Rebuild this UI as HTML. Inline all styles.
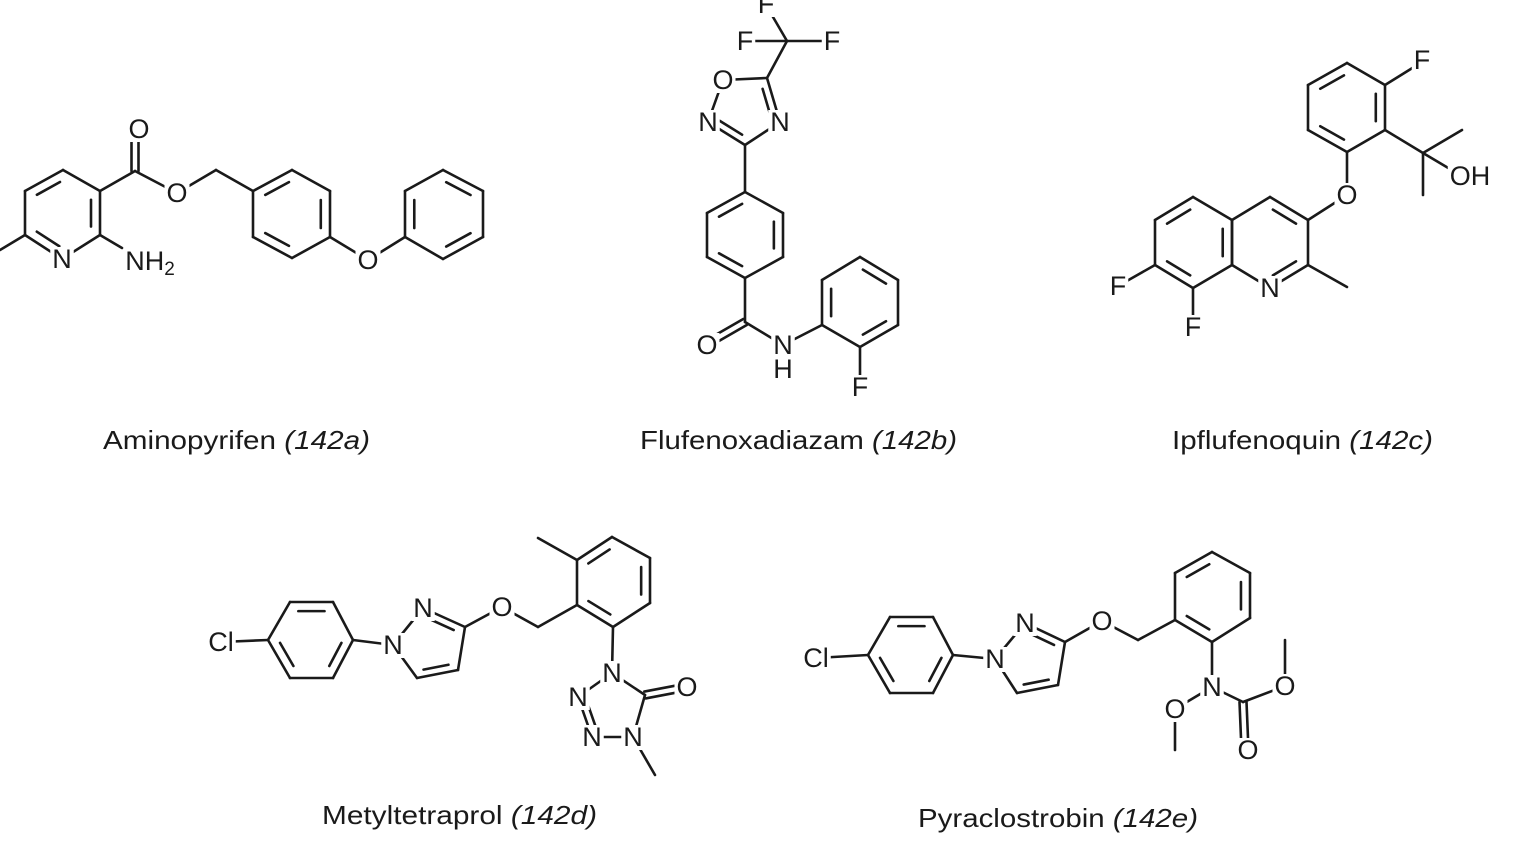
<!DOCTYPE html>
<html><head><meta charset="utf-8"><style>
html,body{margin:0;padding:0;background:#fff;}
svg{display:block;}
.at{font-family:"Liberation Sans",sans-serif;font-size:27px;fill:#1a1a1a;text-anchor:middle;dominant-baseline:central;}
.cap{font-family:"Liberation Sans",sans-serif;font-size:26px;fill:#1a1a1a;}
</style></head><body>
<svg id="s" width="1526" height="855" viewBox="0 0 1526 855" xmlns="http://www.w3.org/2000/svg">
<g id="bonds" stroke="#1a1a1a" stroke-width="2.6" stroke-linecap="round" fill="none"></g>
<g id="bg" fill="#fff"></g>
<g id="labels">
<text class="at" x="139" y="129">O</text>
<text class="at" x="177" y="193">O</text>
<text class="at" x="62" y="259">N</text>
<text class="at" x="150" y="261">NH<tspan font-size="19" dy="8">2</tspan></text>
<text class="at" x="368" y="260">O</text>
<text class="at" x="766" y="4">F</text>
<text class="at" x="745" y="41">F</text>
<text class="at" x="832" y="41">F</text>
<text class="at" x="723" y="80">O</text>
<text class="at" x="708" y="122">N</text>
<text class="at" x="780" y="122">N</text>
<text class="at" x="707" y="345">O</text>
<text class="at" x="783" y="345">N</text>
<text class="at" x="783" y="369">H</text>
<text class="at" x="860" y="387">F</text>
<text class="at" x="1422" y="60">F</text>
<text class="at" x="1470" y="176">OH</text>
<text class="at" x="1347" y="195">O</text>
<text class="at" x="1270" y="288">N</text>
<text class="at" x="1118" y="286">F</text>
<text class="at" x="1193" y="327">F</text>
<text class="at" x="221" y="642">Cl</text>
<text class="at" x="393" y="645">N</text>
<text class="at" x="423" y="608">N</text>
<text class="at" x="502" y="607">O</text>
<text class="at" x="612" y="673">N</text>
<text class="at" x="687" y="687">O</text>
<text class="at" x="578" y="697">N</text>
<text class="at" x="592" y="737">N</text>
<text class="at" x="633" y="737">N</text>
<text class="at" x="816" y="658">Cl</text>
<text class="at" x="995" y="659">N</text>
<text class="at" x="1025" y="623">N</text>
<text class="at" x="1102" y="621">O</text>
<text class="at" x="1212" y="687">N</text>
<text class="at" x="1175" y="709">O</text>
<text class="at" x="1285" y="686">O</text>
<text class="at" x="1248" y="750">O</text>
</g>
<text class="cap" x="103" y="449" textLength="267" lengthAdjust="spacingAndGlyphs">Aminopyrifen <tspan font-style="italic">(142a)</tspan></text>
<text class="cap" x="640" y="449" textLength="317" lengthAdjust="spacingAndGlyphs">Flufenoxadiazam <tspan font-style="italic">(142b)</tspan></text>
<text class="cap" x="1172" y="449" textLength="261" lengthAdjust="spacingAndGlyphs">Ipflufenoquin <tspan font-style="italic">(142c)</tspan></text>
<text class="cap" x="322" y="824" textLength="275" lengthAdjust="spacingAndGlyphs">Metyltetraprol <tspan font-style="italic">(142d)</tspan></text>
<text class="cap" x="918" y="827" textLength="280" lengthAdjust="spacingAndGlyphs">Pyraclostrobin <tspan font-style="italic">(142e)</tspan></text>
</svg>
<script>
var g=document.getElementById('bonds'),NS='http://www.w3.org/2000/svg';
function b(x1,y1,x2,y2){var l=document.createElementNS(NS,'line');l.setAttribute('x1',x1);l.setAttribute('y1',y1);l.setAttribute('x2',x2);l.setAttribute('y2',y2);g.appendChild(l);}
function d2(x1,y1,x2,y2,o){var dx=x2-x1,dy=y2-y1,L=Math.hypot(dx,dy),nx=-dy/L*o,ny=dx/L*o;b(x1+nx,y1+ny,x2+nx,y2+ny);b(x1-nx,y1-ny,x2-nx,y2-ny);}
function ring(P,inner){var cx=0,cy=0;P.forEach(function(p){cx+=p[0];cy+=p[1];});cx/=P.length;cy/=P.length;
for(var i=0;i<P.length;i++){var a=P[i],c=P[(i+1)%P.length];b(a[0],a[1],c[0],c[1]);}
(inner||[]).forEach(function(e){var a=P[e[0]],c=P[e[1]],k=0.76;
var ax=cx+k*(a[0]-cx),ay=cy+k*(a[1]-cy),bx=cx+k*(c[0]-cx),by=cy+k*(c[1]-cy);var t=0.1;
b(ax+(bx-ax)*t,ay+(by-ay)*t,bx-(bx-ax)*t,by-(by-ay)*t);});}
ring([[63,170],[100,191],[100,235],[62,259],[25,235],[25,191]],[[5,0],[1,2],[3,4]]);
b(25,235,0,250);b(100,235,122,248);b(100,191,135,171);d2(135,171,135,140,3.5);
b(135,171,177,193);b(177,193,216,170);b(216,170,253,191);
ring([[253,191],[292,170],[330,191],[330,237],[292,258],[253,237]],[[0,1],[2,3],[4,5]]);
b(330,237,368,260);b(368,260,405,237);
ring([[405,237],[405,191],[443,170],[483,191],[483,237],[443,259]],[[0,1],[2,3],[4,5]]);
b(787,41,747,41);b(787,41,832,41);b(787,41,766,5);b(787,41,767,78);
ring([[723,80],[767,78],[780,122],[745,145],[708,122]],[[1,2],[3,4]]);
b(745,145,745,192);
ring([[745,192],[783,213],[783,257],[745,278],[707,257],[707,213]],[[5,0],[1,2],[3,4]]);
b(745,278,745,322);d2(745,322,712,341,3.5);b(745,322,783,345);b(783,345,822,325);
ring([[822,325],[822,280],[860,257],[898,280],[898,325],[860,347]],[[0,1],[2,3],[4,5]]);
b(860,347,860,387);
ring([[1347,63],[1385,85],[1385,130],[1347,152],[1308,130],[1308,85]],[[5,0],[1,2],[3,4]]);
b(1385,85,1422,62);b(1385,130,1423,153);b(1423,153,1462,130);b(1423,153,1423,195);b(1423,153,1455,172);
b(1347,152,1347,195);b(1347,195,1308,220);
ring([[1270,197],[1308,220],[1308,265],[1270,288],[1232,265],[1232,220]],[[0,1],[2,3]]);
ring([[1232,220],[1193,197],[1155,220],[1155,265],[1193,288],[1232,265]],[[1,2],[3,4],[5,0]]);
b(1308,265,1347,287);b(1155,265,1118,286);b(1193,288,1193,327);
b(221,642,268,640);
ring([[268,640],[290,602],[333,602],[353,640],[333,678],[290,678]],[[1,2],[3,4],[5,0]]);
b(353,640,393,645);
ring([[393,645],[423,608],[465,627],[458,670],[417,678]],[[1,2],[3,4]]);
b(465,627,502,607);b(502,607,538,627);b(538,627,577,605);
ring([[577,605],[577,560],[612,537],[650,558],[650,603],[613,627]],[[1,2],[3,4],[5,0]]);
b(577,560,538,538);b(613,627,612,673);
ring([[612,673],[645,695],[633,737],[592,737],[578,697]],[[3,4]]);
d2(645,695,687,687,3.5);b(633,737,655,775);
b(816,658,868,655);
ring([[868,655],[890,617],[933,617],[953,655],[933,693],[890,693]],[[1,2],[3,4],[5,0]]);
b(953,655,995,659);
ring([[995,659],[1025,623],[1065,642],[1058,685],[1017,693]],[[1,2],[3,4]]);
b(1065,642,1102,621);b(1102,621,1138,640);b(1138,640,1175,620);
ring([[1175,620],[1175,573],[1212,552],[1250,573],[1250,618],[1212,642]],[[1,2],[3,4],[5,0]]);
b(1212,642,1212,687);b(1212,687,1175,709);b(1175,709,1175,750);
b(1212,687,1243,702);d2(1243,702,1245,750,3.5);b(1243,702,1285,686);b(1285,686,1285,640);
var bg=document.getElementById('bg');
Array.prototype.forEach.call(document.querySelectorAll('#labels text'),function(t){
var bb=t.getBBox();var r=document.createElementNS(NS,'rect');
r.setAttribute('x',bb.x-2);r.setAttribute('y',bb.y+3);r.setAttribute('width',bb.width+4);r.setAttribute('height',bb.height-5);bg.appendChild(r);});
</script>
</body></html>
